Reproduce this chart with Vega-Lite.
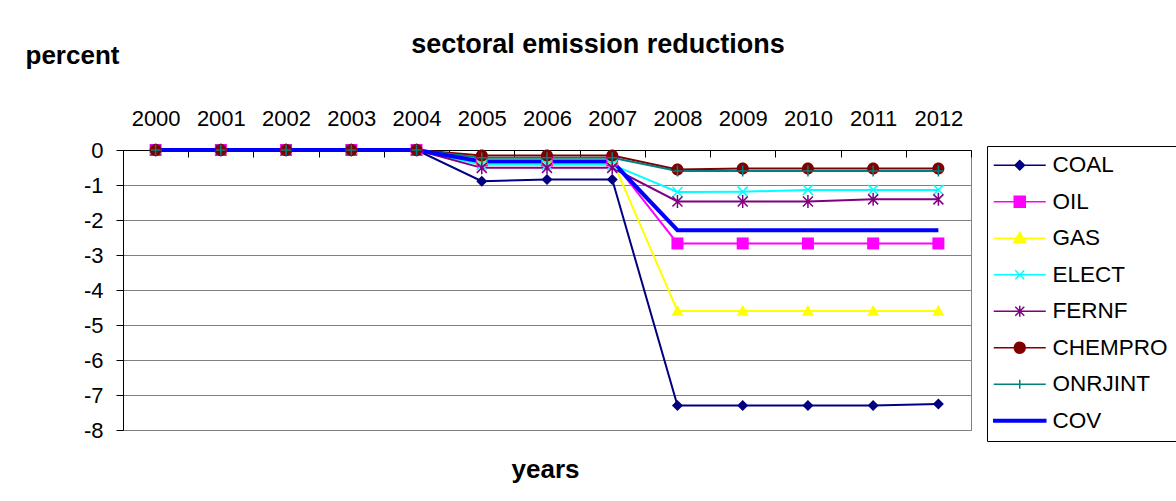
{
  "$schema": "https://vega.github.io/schema/vega-lite/v6.json",
  "width": 848,
  "height": 280,
  "autosize": {"type": "none"},
  "padding": {"left": 123, "top": 150, "right": 205, "bottom": 71},
  "background": "white",
  "config": {"font": "Liberation Sans", "view": {"stroke": "#808080", "strokeWidth": 1}},
  "title": {"text": "sectoral emission reductions", "fontSize": 27, "fontWeight": "bold", "color": "black", "anchor": "middle", "frame": "group", "dx": 51, "offset": -38, "baseline": "alphabetic"},
  "data": {"values": [
    {"year":"2000","series":"COAL","value":0},{"year":"2001","series":"COAL","value":0},{"year":"2002","series":"COAL","value":0},{"year":"2003","series":"COAL","value":0},{"year":"2004","series":"COAL","value":0},{"year":"2005","series":"COAL","value":-0.89},{"year":"2006","series":"COAL","value":-0.84},{"year":"2007","series":"COAL","value":-0.84},{"year":"2008","series":"COAL","value":-7.3},{"year":"2009","series":"COAL","value":-7.3},{"year":"2010","series":"COAL","value":-7.3},{"year":"2011","series":"COAL","value":-7.3},{"year":"2012","series":"COAL","value":-7.26},
    {"year":"2000","series":"OIL","value":0},{"year":"2001","series":"OIL","value":0},{"year":"2002","series":"OIL","value":0},{"year":"2003","series":"OIL","value":0},{"year":"2004","series":"OIL","value":0},{"year":"2005","series":"OIL","value":-0.3},{"year":"2006","series":"OIL","value":-0.3},{"year":"2007","series":"OIL","value":-0.3},{"year":"2008","series":"OIL","value":-2.67},{"year":"2009","series":"OIL","value":-2.67},{"year":"2010","series":"OIL","value":-2.67},{"year":"2011","series":"OIL","value":-2.67},{"year":"2012","series":"OIL","value":-2.67},
    {"year":"2000","series":"GAS","value":0},{"year":"2001","series":"GAS","value":0},{"year":"2002","series":"GAS","value":0},{"year":"2003","series":"GAS","value":0},{"year":"2004","series":"GAS","value":0},{"year":"2005","series":"GAS","value":-0.28},{"year":"2006","series":"GAS","value":-0.28},{"year":"2007","series":"GAS","value":-0.28},{"year":"2008","series":"GAS","value":-4.6},{"year":"2009","series":"GAS","value":-4.6},{"year":"2010","series":"GAS","value":-4.6},{"year":"2011","series":"GAS","value":-4.6},{"year":"2012","series":"GAS","value":-4.6},
    {"year":"2000","series":"ELECT","value":0},{"year":"2001","series":"ELECT","value":0},{"year":"2002","series":"ELECT","value":0},{"year":"2003","series":"ELECT","value":0},{"year":"2004","series":"ELECT","value":0},{"year":"2005","series":"ELECT","value":-0.42},{"year":"2006","series":"ELECT","value":-0.42},{"year":"2007","series":"ELECT","value":-0.42},{"year":"2008","series":"ELECT","value":-1.2},{"year":"2009","series":"ELECT","value":-1.19},{"year":"2010","series":"ELECT","value":-1.14},{"year":"2011","series":"ELECT","value":-1.14},{"year":"2012","series":"ELECT","value":-1.14},
    {"year":"2000","series":"FERNF","value":0},{"year":"2001","series":"FERNF","value":0},{"year":"2002","series":"FERNF","value":0},{"year":"2003","series":"FERNF","value":0},{"year":"2004","series":"FERNF","value":0},{"year":"2005","series":"FERNF","value":-0.51},{"year":"2006","series":"FERNF","value":-0.51},{"year":"2007","series":"FERNF","value":-0.51},{"year":"2008","series":"FERNF","value":-1.47},{"year":"2009","series":"FERNF","value":-1.47},{"year":"2010","series":"FERNF","value":-1.47},{"year":"2011","series":"FERNF","value":-1.41},{"year":"2012","series":"FERNF","value":-1.41},
    {"year":"2000","series":"CHEMPRO","value":0},{"year":"2001","series":"CHEMPRO","value":0},{"year":"2002","series":"CHEMPRO","value":0},{"year":"2003","series":"CHEMPRO","value":0},{"year":"2004","series":"CHEMPRO","value":0},{"year":"2005","series":"CHEMPRO","value":-0.16},{"year":"2006","series":"CHEMPRO","value":-0.16},{"year":"2007","series":"CHEMPRO","value":-0.16},{"year":"2008","series":"CHEMPRO","value":-0.56},{"year":"2009","series":"CHEMPRO","value":-0.53},{"year":"2010","series":"CHEMPRO","value":-0.53},{"year":"2011","series":"CHEMPRO","value":-0.53},{"year":"2012","series":"CHEMPRO","value":-0.53},
    {"year":"2000","series":"ONRJINT","value":0},{"year":"2001","series":"ONRJINT","value":0},{"year":"2002","series":"ONRJINT","value":0},{"year":"2003","series":"ONRJINT","value":0},{"year":"2004","series":"ONRJINT","value":0},{"year":"2005","series":"ONRJINT","value":-0.22},{"year":"2006","series":"ONRJINT","value":-0.22},{"year":"2007","series":"ONRJINT","value":-0.22},{"year":"2008","series":"ONRJINT","value":-0.6},{"year":"2009","series":"ONRJINT","value":-0.6},{"year":"2010","series":"ONRJINT","value":-0.6},{"year":"2011","series":"ONRJINT","value":-0.6},{"year":"2012","series":"ONRJINT","value":-0.6},
    {"year":"2000","series":"COV","value":0},{"year":"2001","series":"COV","value":0},{"year":"2002","series":"COV","value":0},{"year":"2003","series":"COV","value":0},{"year":"2004","series":"COV","value":0},{"year":"2005","series":"COV","value":-0.33},{"year":"2006","series":"COV","value":-0.33},{"year":"2007","series":"COV","value":-0.33},{"year":"2008","series":"COV","value":-2.29},{"year":"2009","series":"COV","value":-2.29},{"year":"2010","series":"COV","value":-2.29},{"year":"2011","series":"COV","value":-2.29},{"year":"2012","series":"COV","value":-2.29}
  ]},
  "encoding": {
    "x": {
      "field": "year", "type": "ordinal", "bandPosition": 0.5,
      "scale": {"type": "band", "paddingInner": 0, "paddingOuter": 0},
      "axis": {"orient": "top", "title": "years", "titleX": 422, "titleY": 327, "titleAlign": "center", "titleBaseline": "alphabetic", "titleAngle": 0, "titleFontSize": 26, "titleFontWeight": "bold", "titleColor": "black",
               "labelAngle": 0, "labelFontSize": 22, "labelColor": "black", "labelPadding": 32, "labelBaseline": "alphabetic", "labelOverlap": false, "labelFlush": false,
               "tickSize": -7, "tickColor": "black", "tickBand": "extent", "domainColor": "black", "grid": false}
    },
    "y": {
      "field": "value", "type": "quantitative",
      "scale": {"domain": [-8, 0], "nice": false, "zero": false},
      "axis": {"title": "percent", "titleAngle": 0, "titleAlign": "left", "titleBaseline": "alphabetic", "titleX": -98, "titleY": -87, "titleFontSize": 26, "titleFontWeight": "bold", "titleColor": "black",
               "values": [-8, -7, -6, -5, -4, -3, -2, -1, 0], "labelExpr": "'' + datum.value", "labelFontSize": 22, "labelColor": "black", "labelPadding": 13, "labelFlush": false, "labelOverlap": false,
               "tickSize": 7, "tickColor": "black", "domainColor": "black", "grid": true, "gridColor": "#808080", "gridOpacity": 1}
    },
    "color": {
      "field": "series", "type": "nominal",
      "scale": {"domain": ["COAL", "OIL", "GAS", "ELECT", "FERNF", "CHEMPRO", "ONRJINT", "COV"], "range": ["#000080", "#ff00ff", "#ffff00", "#00ffff", "#800080", "#800000", "#008080", "#0000ff"]}
    }
  },
  "layer": [
    {
      "transform": [{"filter": "datum.series !== 'COV'"}],
      "mark": {"type": "line", "strokeWidth": 2}
    },
    {
      "transform": [{"filter": "datum.series === 'COV'"}],
      "mark": {"type": "line", "strokeWidth": 4}
    },
    {
      "transform": [{"filter": "datum.series === 'COAL'"}],
      "mark": {"type": "point", "shape": "M0,-1.1L1.1,0L0,1.1L-1.1,0Z", "filled": true, "opacity": 1, "size": 100, "strokeWidth": 0}
    },
    {
      "transform": [{"filter": "datum.series === 'OIL'"}],
      "mark": {"type": "point", "shape": "M-1.2,-1.2H1.2V1.2H-1.2Z", "filled": true, "opacity": 1, "size": 100, "strokeWidth": 0}
    },
    {
      "transform": [{"filter": "datum.series === 'GAS'"}],
      "mark": {"type": "point", "shape": "M0,-1.25L1.2,0.95H-1.2Z", "filled": true, "opacity": 1, "size": 100, "strokeWidth": 0}
    },
    {
      "transform": [{"filter": "datum.series === 'ELECT'"}],
      "mark": {"type": "point", "shape": "M-1,-1L1,1M-1,1L1,-1", "filled": false, "opacity": 1, "size": 100, "strokeWidth": 1.5}
    },
    {
      "transform": [{"filter": "datum.series === 'FERNF'"}],
      "mark": {"type": "point", "shape": "M-1,-1L1,1M-1,1L1,-1M0,-1.3V1.3", "filled": false, "opacity": 1, "size": 100, "strokeWidth": 1.5}
    },
    {
      "transform": [{"filter": "datum.series === 'CHEMPRO'"}],
      "mark": {"type": "point", "shape": "M1.2,0A1.2,1.2,0,1,1,-1.2,0A1.2,1.2,0,1,1,1.2,0Z", "filled": true, "opacity": 1, "size": 100, "strokeWidth": 0}
    },
    {
      "transform": [{"filter": "datum.series === 'ONRJINT'"}],
      "mark": {"type": "point", "shape": "M-1,0H1M0,-1.1V1.1", "filled": false, "opacity": 1, "size": 100, "strokeWidth": 1.5}
    },
    {
      "transform": [{"filter": "false"}],
      "mark": {"type": "point", "filled": true, "opacity": 1, "size": 100, "strokeWidth": 1.5},
      "encoding": {
        "color": {"field": "series", "type": "nominal",
          "legend": {"orient": "none", "legendX": 864, "legendY": -4, "title": null, "direction": "vertical", "padding": 8, "strokeColor": "black", "fillColor": "white", "cornerRadius": 0,
                     "labelFontSize": 22.5, "labelColor": "black", "symbolSize": 100, "symbolStrokeWidth": 1.5, "symbolOffset": 13.5, "labelOffset": 21.5, "rowPadding": 13.5}},
        "stroke": {"field": "series", "type": "nominal",
          "scale": {"domain": ["COAL", "OIL", "GAS", "ELECT", "FERNF", "CHEMPRO", "ONRJINT", "COV"], "range": ["#000080", "#ff00ff", "#ffff00", "#00ffff", "#800080", "#800000", "#008080", "#0000ff"]},
          "legend": {"orient": "none", "legendX": 864, "legendY": -4, "title": null, "direction": "vertical", "padding": 8, "strokeColor": "black", "fillColor": "white", "cornerRadius": 0,
                     "labelFontSize": 22.5, "labelColor": "black", "symbolSize": 100, "symbolStrokeWidth": 1.5, "symbolOffset": 13.5, "labelOffset": 21.5, "rowPadding": 13.5}},
        "shape": {"field": "series", "type": "nominal",
          "scale": {"domain": ["COAL", "OIL", "GAS", "ELECT", "FERNF", "CHEMPRO", "ONRJINT", "COV"],
                    "range": ["M-5.2,0H5.2M0,-0.95L0.95,0L0,0.95L-0.95,0Z", "M-5.2,0H5.2M-1.1,-1.1H1.1V1.1H-1.1Z", "M-5.2,0H5.2M0,-1.2L1.2,0.9H-1.2Z", "M-5.2,0H5.2M-0.9,-0.9L0.9,0.9M-0.9,0.9L0.9,-0.9", "M-5.2,0H5.2M-0.9,-0.9L0.9,0.9M-0.9,0.9L0.9,-0.9M0,-1.1V1.1", "M-5.2,0H5.2M1.1,0A1.1,1.1,0,1,1,-1.1,0A1.1,1.1,0,1,1,1.1,0Z", "M-5.2,0H5.2M0,-0.9V0.9", "M-5.2,-0.25H5.2V0.25H-5.2Z"]},
          "legend": {"orient": "none", "legendX": 864, "legendY": -4, "title": null, "direction": "vertical", "padding": 8, "strokeColor": "black", "fillColor": "white", "cornerRadius": 0,
                     "labelFontSize": 22.5, "labelColor": "black", "symbolSize": 100, "symbolStrokeWidth": 1.5, "symbolOffset": 13.5, "labelOffset": 21.5, "rowPadding": 13.5}}
      }
    }
  ]
}
